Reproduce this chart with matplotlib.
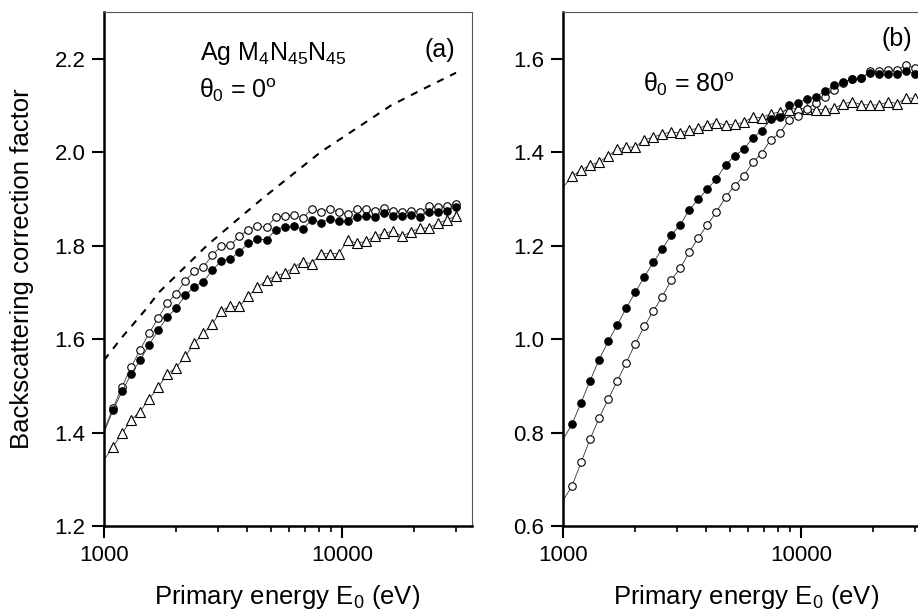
import matplotlib
matplotlib.use("Agg")
import matplotlib.pyplot as plt
from matplotlib.ticker import LogLocator, NullFormatter, FixedLocator

plt.rcParams['font.family'] = ['Liberation Sans', 'DejaVu Sans']
plt.rcParams['mathtext.fontset'] = 'custom'
plt.rcParams['mathtext.rm'] = 'Liberation Sans'
plt.rcParams['mathtext.it'] = 'Liberation Sans'
plt.rcParams['mathtext.bf'] = 'Liberation Sans:bold'

# --- data ---
energy = [1000, 1091, 1191, 1299, 1417, 1547, 1688, 1841, 2009, 2193,
          2392, 2610, 2848, 3108, 3391, 3700, 4037, 4405, 4807, 5245,
          5723, 6245, 6814, 7435, 8113, 8852, 9659, 10539, 11500, 12548,
          13691, 14939, 16300, 17786, 19407, 21176, 23106, 25212, 27510, 30000]

# panel (a), theta0 = 0 deg
a_open = [1.405, 1.452, 1.498, 1.540, 1.577, 1.613, 1.645, 1.677, 1.697, 1.725,
          1.745, 1.755, 1.779, 1.800, 1.802, 1.820, 1.834, 1.842, 1.839, 1.861,
          1.864, 1.866, 1.859, 1.878, 1.872, 1.879, 1.872, 1.868, 1.878, 1.879,
          1.875, 1.881, 1.875, 1.872, 1.875, 1.872, 1.884, 1.882, 1.884, 1.890]
a_full = [1.400, 1.448, 1.488, 1.525, 1.555, 1.588, 1.619, 1.647, 1.666, 1.694,
          1.712, 1.723, 1.747, 1.768, 1.771, 1.787, 1.805, 1.814, 1.812, 1.834,
          1.840, 1.842, 1.835, 1.855, 1.849, 1.858, 1.852, 1.852, 1.862, 1.863,
          1.862, 1.870, 1.863, 1.863, 1.865, 1.862, 1.873, 1.873, 1.875, 1.883]
a_tri = [1.341, 1.370, 1.398, 1.427, 1.445, 1.472, 1.497, 1.525, 1.539, 1.563,
         1.591, 1.612, 1.633, 1.661, 1.670, 1.670, 1.692, 1.711, 1.726, 1.735,
         1.741, 1.753, 1.766, 1.761, 1.783, 1.783, 1.783, 1.812, 1.805, 1.809,
         1.820, 1.826, 1.831, 1.820, 1.830, 1.837, 1.838, 1.848, 1.855, 1.864]
dash_E = [1000, 1200, 1500, 1700, 2000, 2700, 3500, 4600, 6000, 8100,
          11000, 16000, 22000, 30000]
dash_val = [1.555, 1.606, 1.664, 1.700, 1.735, 1.800, 1.849, 1.900, 1.947, 2.000,
            2.045, 2.100, 2.136, 2.170]

# panel (b), theta0 = 80 deg
b_open = [0.654, 0.686, 0.736, 0.786, 0.831, 0.871, 0.910, 0.949, 0.990, 1.027,
          1.060, 1.091, 1.127, 1.152, 1.187, 1.217, 1.245, 1.272, 1.304, 1.328,
          1.348, 1.378, 1.397, 1.427, 1.440, 1.468, 1.478, 1.492, 1.505, 1.519,
          1.533, 1.548, 1.556, 1.558, 1.573, 1.573, 1.575, 1.576, 1.587, 1.580]
b_full = [0.785, 0.818, 0.864, 0.911, 0.956, 0.995, 1.030, 1.066, 1.100, 1.133,
          1.164, 1.193, 1.223, 1.245, 1.277, 1.300, 1.321, 1.343, 1.373, 1.392,
          1.406, 1.430, 1.446, 1.470, 1.475, 1.500, 1.505, 1.514, 1.519, 1.530,
          1.543, 1.551, 1.556, 1.558, 1.570, 1.567, 1.567, 1.567, 1.574, 1.568]
b_tri = [1.325, 1.348, 1.362, 1.372, 1.379, 1.392, 1.406, 1.411, 1.411, 1.427,
         1.432, 1.439, 1.443, 1.441, 1.448, 1.451, 1.458, 1.463, 1.458, 1.460,
         1.464, 1.475, 1.474, 1.482, 1.486, 1.491, 1.494, 1.493, 1.491, 1.491,
         1.494, 1.503, 1.508, 1.502, 1.501, 1.501, 1.508, 1.504, 1.516, 1.515]

x_ticks = [1000, 10000]
x_ticklabels = ['1000', '10000']
a_yticks = [1.2, 1.4, 1.6, 1.8, 2.0, 2.2]
b_yticks = [0.6, 0.8, 1.0, 1.2, 1.4, 1.6]

fig = plt.figure(figsize=(9.18, 6.12), dpi=100)
ax_a = fig.add_axes([104 / 918, 86 / 612, 368 / 918, 514 / 612])
ax_b = fig.add_axes([563 / 918, 86 / 612, 368 / 918, 514 / 612])

line_kw = dict(color='#333333', lw=0.6, markevery=slice(1, None))


def style(ax, yticks, ylim):
    ax.set_xscale('log')
    ax.set_xlim(1000, 35000)
    ax.set_ylim(*ylim)
    ax.xaxis.set_major_locator(FixedLocator(x_ticks))
    ax.set_xticklabels(x_ticklabels)
    ax.xaxis.set_minor_locator(LogLocator(base=10, subs=range(2, 10)))
    ax.xaxis.set_minor_formatter(NullFormatter())
    ax.set_yticks(yticks)
    ax.set_yticklabels([f'{v:.1f}' for v in yticks])
    for s in ['left', 'bottom']:
        ax.spines[s].set_linewidth(1.8)
        ax.spines[s].set_color('black')
    for s in ['top', 'right']:
        ax.spines[s].set_linewidth(0.8)
        ax.spines[s].set_color('#555555')
    ax.tick_params(which='major', direction='out', length=8.5, width=1.5,
                   labelsize=16, pad=5, top=False, right=False)
    ax.tick_params(which='minor', direction='out', length=4.5, width=1.2,
                   top=False, right=False)
    ax.set_xlabel('Primary energy E$_0$ (eV)', fontsize=18.5)
    ax.xaxis.set_label_coords(0.497, -0.111)


def draw(ax, yo, yf, yt):
    ax.plot(energy, yt, marker='^', ms=7, mfc='white', mec='black', mew=0.8, **line_kw)
    ax.plot(energy, yo, marker='o', ms=5.4, mfc='white', mec='black', mew=0.8, **line_kw)
    ax.plot(energy, yf, marker='o', ms=5.4, mfc='black', mec='black', mew=0.8, **line_kw)


# --- panel (a) ---
draw(ax_a, a_open, a_full, a_tri)
ax_a.plot(dash_E, dash_val, color='black', lw=1.5, ls=(0, (3.5, 3.5)))
style(ax_a, a_yticks, (1.2, 2.3))
ax_a.set_ylabel('Backscattering correction factor', fontsize=18.5)
ax_a.yaxis.set_label_coords(-0.19, 0.5)
ax_a.text(0.261, 0.907, r'Ag M$_4$N$_{45}$N$_{45}$', transform=ax_a.transAxes, fontsize=18)
ax_a.text(0.258, 0.833, r'$\theta_0$ = 0$^\mathrm{o}$', transform=ax_a.transAxes, fontsize=18)
ax_a.text(0.954, 0.926, '(a)', transform=ax_a.transAxes, fontsize=18, ha='right', va='center')

# --- panel (b) ---
draw(ax_b, b_open, b_full, b_tri)
style(ax_b, b_yticks, (0.6, 1.7))
ax_b.text(0.217, 0.844, r'$\theta_0$ = 80$^\mathrm{o}$', transform=ax_b.transAxes, fontsize=18)
ax_b.text(0.9475, 0.947, '(b)', transform=ax_b.transAxes, fontsize=18, ha='right', va='center')

fig.savefig('out.png', dpi=100)
